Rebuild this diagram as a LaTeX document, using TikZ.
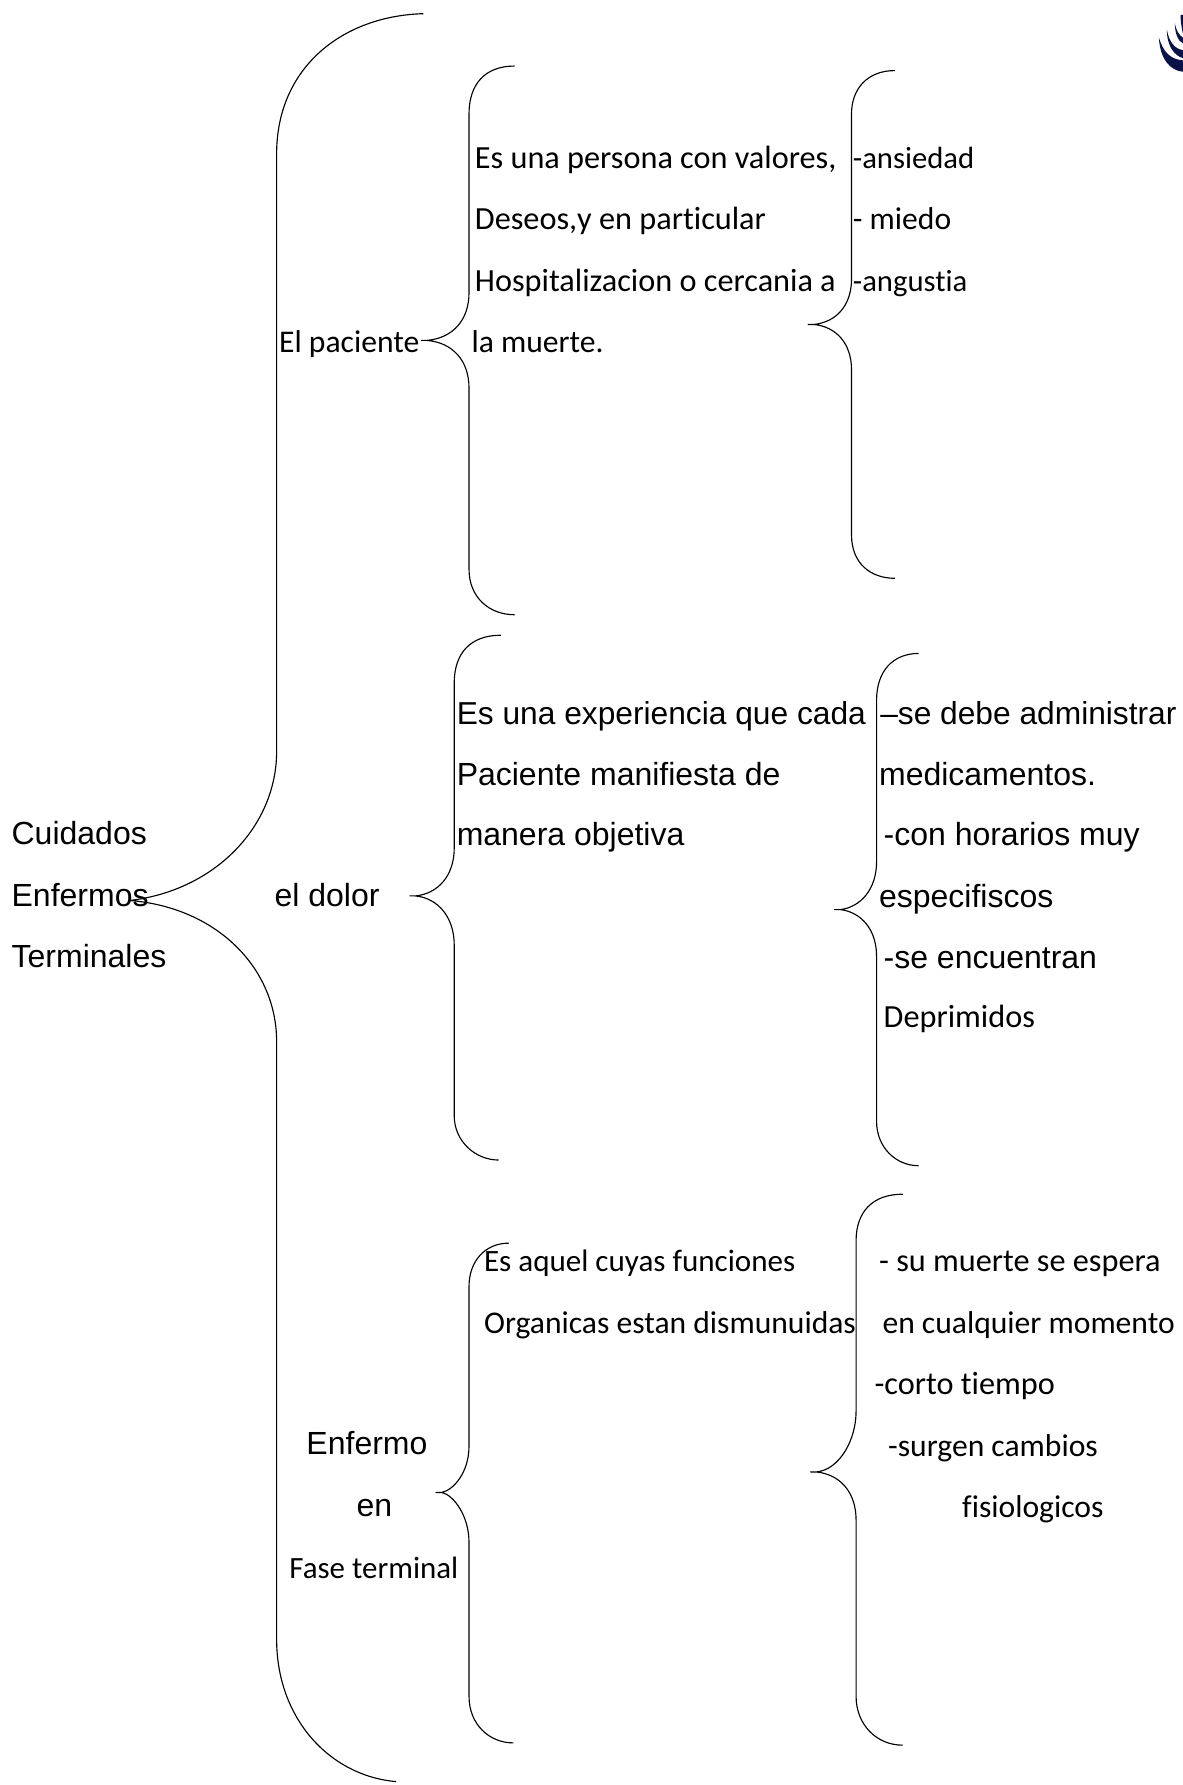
\documentclass[tikz,border=0pt]{standalone}
\usepackage{fontspec}
\setmainfont{Liberation Sans}
\newfontfamily\gill[Ligatures=NoCommon]{Carlito}
\newcommand{\brc}[9]{% topx topy stemx y1 y2 tipx tipy y3 y4
  \draw[bracket] (#1,#2) .. controls (#3+14,#2) and (#3,#2+16) .. (#3,#4) -- (#3,#5)
    .. controls (#3,#5+24) and (#3-14,#7-2) .. (#6+5,#7) -- (#6,#7) -- (#6+5,#7)
    .. controls (#3-14,#7+2) and (#3,#8-24) .. (#3,#8) -- (#3,#9)}
\tikzset{
  x=0.854pt,y=-0.854pt,
  bracket/.style={draw=black,line width=0.85pt,line join=round},
  ar/.style={anchor=base west,inner sep=0pt,font=\fontsize{24}{28}\selectfont,text=black},
  gs/.style={anchor=base west,inner sep=0pt,font=\gill\fontsize{23.7}{28}\selectfont,text=black},
  gsl/.style={gs,font=\gill\fontsize{24.2}{28}\selectfont},
  gsn/.style={gs,font=\gill\fontsize{23}{28}\selectfont},
  logo/.style={fill=logonavy,draw=none}
}
\definecolor{logonavy}{HTML}{0A1248}
\begin{document}
\begin{tikzpicture}
\useasboundingbox (0,0) rectangle (1039,1568);
\fill[white] (0,0) rectangle (1039,1568);
% big brace
\draw[bracket] (372,12) .. controls (300,14) and (243,60) .. (243,135) -- (243,660)
  .. controls (243,725) and (190,782) .. (114,791)
  .. controls (190,797) and (243,850) .. (243,915) -- (243,1440)
  .. controls (243,1510) and (290,1560) .. (348,1565);
% second-level braces
\brc{452}{58}{412}{100}{257}{370}{299}{341}{500} .. controls (412,525) and (430,540) .. (452,540);
\brc{786}{62}{748}{100}{245}{710}{285}{325}{470} .. controls (748,495) and (765,508) .. (786,508);
\brc{440}{558}{399}{600}{745}{360}{787}{830}{980} .. controls (399,1003) and (418,1019) .. (438,1019);
\brc{807}{574}{770}{615}{757}{733}{799}{840}{985} .. controls (770,1008) and (787,1024) .. (807,1024);
\brc{447}{1092}{412}{1130}{1270}{383}{1311}{1355}{1490} .. controls (412,1515) and (430,1531) .. (451,1531);
\brc{793}{1049}{752}{1090}{1240}{712}{1293}{1335}{1490} .. controls (752,1515) and (770,1533) .. (793,1533);
% logo
\fill[logo] (1018,33) .. controls (1019,52) and (1028,62) .. (1039,63) -- (1039,53) .. controls (1028,52) and (1022,46) .. (1018,33) -- cycle;
\fill[logo] (1025,26) .. controls (1025,41) and (1032,49) .. (1039,51) -- (1039,44) .. controls (1032,43) and (1027,37) .. (1025,26) -- cycle;
\fill[logo] (1032,20) .. controls (1032,30) and (1035,36) .. (1039,38) -- (1039,33) .. controls (1036,31) and (1033,27) .. (1032,20) -- cycle;
\fill[logo] (1037,13) -- (1039,13) -- (1039,29) .. controls (1038,25) and (1037,18) .. (1037,13) -- cycle;
% texts
\node[ar] (t1) at (10,742) {Cuidados};
\node[ar] (t2) at (10,796) {Enfermos};
\node[ar] (t3) at (10,850) {Terminales};
\node[gs] (a0) at (245,310) {El paciente};
\node[gsl] (a1) at (417,148) {Es una persona con valores,};
\node[gsl] (a2) at (417,202) {Deseos,y en particular};
\node[gsl] (a3) at (417,256) {Hospitalizacion o cercania a};
\node[gs] (a4) at (414,310) {la muerte.};
\node[gsn] (a5) at (749,148) {-ansiedad};
\node[gs] (a6) at (749,202) {- miedo};
\node[gsn] (a7) at (749,256) {-angustia};
\node[ar] (b0) at (241,796) {el dolor};
\node[ar,font=\fontsize{23.8}{28}\selectfont] (b1) at (401,636) {Es una experiencia que cada};
\node[ar] (b2) at (401,690) {Paciente manifiesta de};
\node[ar] (b3) at (401,743) {manera objetiva};
\node[ar,font=\fontsize{23.8}{28}\selectfont] (b4) at (773,636) {–se debe administrar};
\node[ar] (b5) at (772,690) {medicamentos.};
\node[ar] (b6) at (776,743) {-con horarios muy};
\node[ar] (b7) at (772,797) {especifiscos};
\node[ar] (b8) at (776,851) {-se encuentran};
\node[gsl] (b9) at (776,903) {Deprimidos};
\node[ar] (c0) at (269,1278) {Enfermo};
\node[ar] (c1) at (313,1332) {en};
\node[gs,font=\gill\fontsize{23.2}{28}\selectfont] (c2) at (254,1387) {Fase terminal};
\node[gs,font=\gill\fontsize{23.3}{28}\selectfont] (c3) at (425,1117) {Es aquel cuyas funciones};
\node[gs] (c4) at (425,1171) {Organicas estan dismunuidas};
\node[gsl] (c5) at (772,1117) {- su muerte se espera};
\node[gs] (c6) at (775,1171) {en cualquier momento};
\node[gsl] (c7) at (768,1225) {-corto tiempo};
\node[gs] (c8) at (780,1279) {-surgen cambios};
\node[gs] (c9) at (845,1333) {fisiologicos};
\end{tikzpicture}
\end{document}
